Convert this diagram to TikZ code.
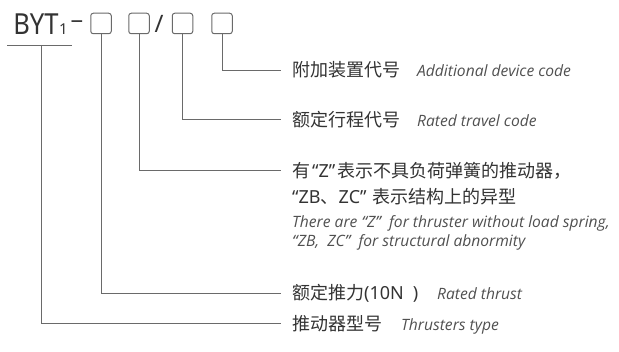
\documentclass[tikz,border=0pt]{standalone}
\usepackage{fontspec}
\setmainfont{Noto Sans}
\newfontfamily\cjk{Noto Sans CJK SC}
\newfontfamily\enfont{Open Sans}
\usetikzlibrary{positioning}

\definecolor{txtgray}{HTML}{333333}
\definecolor{engray}{HTML}{505050}
\definecolor{linegray}{HTML}{6A6A6A}

\newcommand{\openq}{{\rmfamily “}}
\newcommand{\closeq}{{\rmfamily ”}}
\newcommand{\lat}[1]{{\rmfamily #1}}

\tikzset{
  codebox/.style={draw=linegray, line width=1pt, rounded corners=2.5pt,
    minimum size=20.5pt, inner sep=0pt},
  leader/.style={draw=linegray, line width=0.9pt},
  cntext/.style={font=\cjk\fontsize{18}{26}\selectfont, text=txtgray,
    inner sep=0pt, anchor=base west},
  entext/.style={font=\enfont\itshape\fontsize{15.6}{19}\selectfont, text=engray,
    inner sep=0pt, anchor=base west},
}

\begin{document}
\begin{tikzpicture}[x=1pt,y=-1pt]
    \useasboundingbox (0,0) rectangle (619,352);

    % model code
    \node[inner sep=0pt, anchor=base, text=txtgray, font=\fontsize{29}{29}\selectfont,
      xscale=0.88, transform shape] (byt) at (36,34.5) {BYT};
    \node[inner sep=0pt, anchor=base west, text=txtgray, font=\fontsize{15}{15}\selectfont]
      (sub) at (59,34.5) {1};
    \node[inner sep=0pt, text=txtgray, font=\fontsize{22}{22}\selectfont,
      xscale=1.15, transform shape] (dash) at (77,24.5) {–};
    \node[codebox] (b1) at (101,23.5) {};
    \node[codebox] (b2) at (139,23.5) {};
    \node[inner sep=0pt, text=txtgray, font=\fontsize{24}{24}\selectfont] (slash) at (159,23.5) {/};
    \node[codebox] (b3) at (182.5,23.5) {};
    \node[codebox] (b4) at (222,23.5) {};
    \coordinate (ul) at (7,45);
    \coordinate (ur) at (72,45);
    \coordinate (um) at (41,45);
    \draw[leader] (ul) -- (ur);

    % explanations
    \node[cntext] (t4) at (292,77) {附加装置代号};
    \node[entext] (e4) at (417,77) {Additional device code};

    \node[cntext] (t3) at (292,126.5) {额定行程代号};
    \node[entext] (e3) at (417,126.5) {Rated travel code};

    \node[cntext] (t2) at (292,177.5) {有\hspace{2pt}\openq\lat{Z}\closeq\hspace{2pt}表示不具负荷弹簧的推动器，};
    \node[cntext] (t2b) at (292,203.5) {\openq\lat{ZB}、\lat{ZC}\closeq\hspace{6pt}表示结构上的异型};
    \node[entext] (e2) at (292,227.5) {There are \openq Z\closeq\ \ for thruster without load spring,};
    \node[entext] (e2b) at (292,246.5) {\openq ZB,\ \ ZC\closeq\ \ for structural abnormity};

    \node[cntext] (t1) at (292,299.5) {额定推力\lat{(10N\hspace{9pt})}};
    \node[entext] (e1) at (437,299.5) {Rated thrust};

    \node[cntext] (t0) at (292,330.5) {推动器型号};
    \node[entext] (e0) at (401,330.5) {Thrusters type};

    % leaders
    \draw[leader] (b4.south) |- ([xshift=-11pt]t4.west);
    \draw[leader] (b3.south) |- ([xshift=-11pt]t3.west);
    \draw[leader] (b2.south) |- ([xshift=-11pt]t2.west);
    \draw[leader] (b1.south) |- ([xshift=-11pt]t1.west);
    \draw[leader] (um) |- ([xshift=-11pt]t0.west);
\end{tikzpicture}
\end{document}
